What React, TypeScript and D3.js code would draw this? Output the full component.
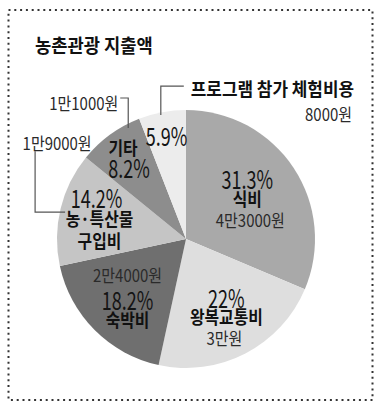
import React from "react";
import * as d3 from "d3";

// ---- data ----
const title = "농촌관광 지출액";
const categories = ["식비", "왕복교통비", "숙박비", "농·특산물 구입비", "기타", "프로그램 참가 체험비용"];
const shares = [31.3, 22, 18.2, 14.2, 8.2, 5.9];
const shareLabels = ["31.3%", "22%", "18.2%", "14.2%", "8.2%", "5.9%"];
const amounts = ["4만3000원", "3만원", "2만4000원", "1만9000원", "1만1000원", "8000원"];

// ---- layout / style ----
const W = 382;
const H = 412;
const cx = 186;
const cy = 239;
const R = 129;
const fills = ["#a9a9a9", "#dedede", "#6f6f6f", "#c5c5c5", "#8d8d8d", "#ececec"];
const labelRadius = [0.57, 0.68, 0.64, 0.69, 0.79, 0.82];
const FONT = "'Noto Sans CJK KR', 'Noto Sans', sans-serif";

type TxtProps = {
  x: number;
  y: number;
  size: number;
  weight?: number;
  fill?: string;
  anchor?: "start" | "middle" | "end";
  sx?: number;
  children: React.ReactNode;
};

function Txt({ x, y, size, weight = 400, fill = "#1a1a1a", anchor = "middle", sx = 1, children }: TxtProps) {
  return (
    <text
      transform={`translate(${x},${y}) scale(${sx},1)`}
      fontSize={size}
      fontWeight={weight}
      fill={fill}
      textAnchor={anchor}
      dominantBaseline="central"
      fontFamily={FONT}
    >
      {children}
    </text>
  );
}

export default function App() {
  const pie = d3.pie<number>().sort(null).value((d) => d)(shares);
  const arc = d3.arc<d3.PieArcDatum<number>>().innerRadius(0).outerRadius(R);

  const polar = (a: number, r: number) => [cx + r * Math.sin(a), cy - r * Math.cos(a)];
  const mid = (i: number) => (pie[i].startAngle + pie[i].endAngle) / 2;
  const at = (i: number, t: number) => pie[i].startAngle + t * (pie[i].endAngle - pie[i].startAngle);

  const anchors = pie.map((_, i) => polar(mid(i), R * labelRadius[i]));

  const pct = (i: number, x: number, y: number) => (
    <Txt x={x} y={y} size={25} sx={0.72} fill="#141414">{shareLabels[i]}</Txt>
  );
  const name = (s: string, x: number, y: number) => (
    <Txt x={x} y={y} size={18} weight={700} fill="#111" sx={0.88}>{s}</Txt>
  );
  const amt = (i: number, x: number, y: number, anchor: "start" | "middle" | "end" = "middle") => (
    <Txt x={x} y={y} size={17} fill="#2a2a2a" sx={0.88} anchor={anchor}>{amounts[i]}</Txt>
  );

  const [a0x, a0y] = anchors[0];
  const [a1x, a1y] = anchors[1];
  const [a2x, a2y] = anchors[2];
  const [a3x, a3y] = anchors[3];
  const [a4x, a4y] = anchors[4];
  const [a5x, a5y] = anchors[5];

  // leader end points inside slices
  const [e3x, e3y] = polar(at(3, 0.48), R * 0.96);
  const [e4x, e4y] = polar(at(4, 0.79), R * 0.97);
  const [e5x, e5y] = polar(at(5, 0.46), R * 0.98);

  const lineStyle = { stroke: "#555", strokeWidth: 1.2, fill: "none" };
  const [n3a, n3b] = categories[3].split(" ");

  return (
    <svg width={W} height={H} style={{ position: "absolute", left: 0, top: 0, background: "#fff" }}>
      <rect x={8.5} y={10} width={364} height={390} fill="none" stroke="#333" strokeWidth={2} strokeDasharray="2 3.8" />
      <Txt x={35} y={45} size={19} weight={700} fill="#111" anchor="start" sx={0.93}>{title}</Txt>

      <g transform={`translate(${cx},${cy})`}>
        {pie.map((d, i) => (
          <path key={categories[i]} d={arc(d) || ""} fill={fills[i]} />
        ))}
      </g>

      {/* 식비 */}
      {pct(0, a0x, a0y - 20)}
      {name(categories[0], a0x, a0y)}
      {amt(0, a0x + 3, a0y + 21)}

      {/* 왕복교통비 */}
      {pct(1, a1x, a1y - 20)}
      {name(categories[1], a1x, a1y - 1)}
      {amt(1, a1x - 2, a1y + 21)}

      {/* 숙박비 */}
      {amt(2, a2x, a2y - 23)}
      {pct(2, a2x, a2y + 2)}
      {name(categories[2], a2x, a2y + 22)}

      {/* 농·특산물 구입비 */}
      {pct(3, a3x - 3, a3y - 21)}
      {name(n3a, a3x, a3y)}
      {name(n3b, a3x, a3y + 22)}
      <polyline points={`${e3x},${e3y} ${e3x - 30},${e3y} ${e3x - 30},${e3y - 61}`} style={lineStyle} />
      {amt(3, e3x - 8, e3y - 69.5)}

      {/* 기타 */}
      {name(categories[4], a4x - 3, a4y - 10)}
      {pct(4, a4x + 3, a4y + 10)}
      <polyline points={`${e4x},${e4y} ${e4x},${e4y - 30} ${e4x - 8},${e4y - 30}`} style={lineStyle} />
      {amt(4, e4x - 10, e4y - 25.5, "end")}

      {/* 프로그램 참가 체험비용 */}
      {pct(5, a5x, a5y)}
      <polyline points={`${e5x},${e5y} ${e5x},${e5y - 29} ${e5x + 23},${e5y - 29}`} style={lineStyle} />
      <Txt x={e5x + 30} y={e5y - 27} size={18} weight={700} fill="#111" anchor="start" sx={0.94}>{categories[5]}</Txt>
      {amt(5, 352, e5y - 2, "end")}
    </svg>
  );
}
